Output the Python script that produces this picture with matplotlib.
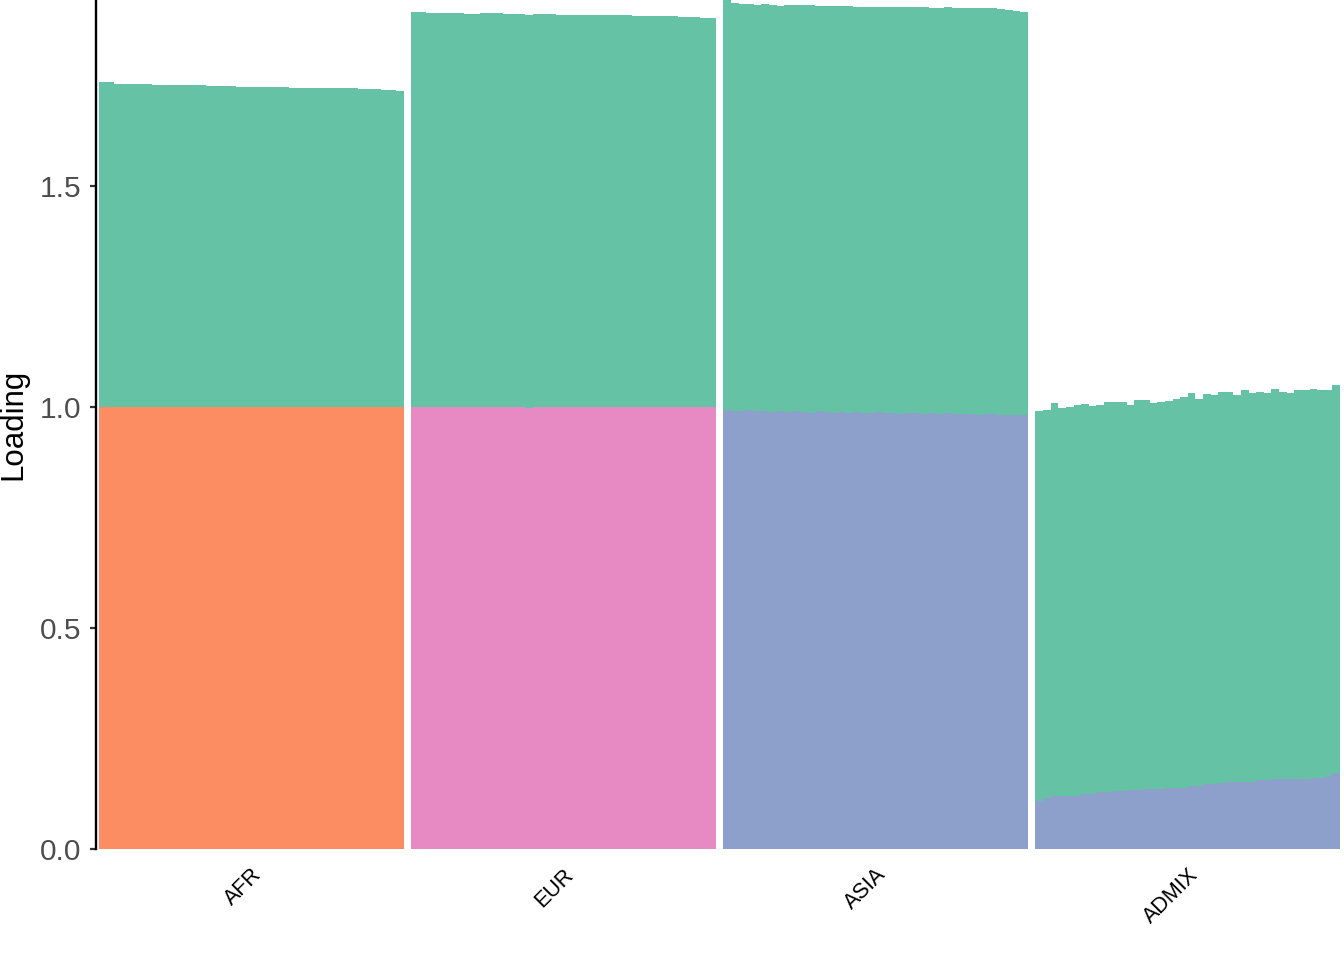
import matplotlib
matplotlib.use("Agg")
import matplotlib.pyplot as plt
import numpy as np

plt.rcParams['font.family'] = ['Liberation Sans', 'DejaVu Sans']

# ---------------- data ----------------
groups = ["AFR", "EUR", "ASIA", "ADMIX"]
group_colors = ["#FC8D62", "#E78AC3", "#8DA0CB", "#8DA0CB"]
shared_color = "#66C2A5"

afr_specific = [1.0, 1.0, 1.0, 1.0, 1.0, 1.0, 1.0, 1.0, 1.0, 1.0,
                1.0, 1.0, 1.0, 1.0, 1.0, 1.0, 1.0, 1.0, 1.0, 1.0,
                1.0, 1.0, 1.0, 1.0, 1.0, 1.0, 1.0, 1.0, 1.0, 1.0,
                1.0, 1.0, 1.0, 1.0, 1.0, 1.0, 1.0, 1.0, 1.0, 1.0]
afr_shared = [0.735, 0.735, 0.731, 0.731, 0.731, 0.731, 0.731, 0.729, 0.729, 0.728,
              0.728, 0.728, 0.728, 0.728, 0.726, 0.726, 0.726, 0.726, 0.724, 0.724,
              0.724, 0.724, 0.724, 0.724, 0.724, 0.722, 0.722, 0.722, 0.722, 0.722,
              0.722, 0.722, 0.722, 0.722, 0.719, 0.719, 0.719, 0.717, 0.717, 0.715]

eur_specific = [1.0, 1.0, 1.0, 1.0, 1.0, 1.0, 1.0, 1.0, 1.0, 1.0,
                1.0, 1.0, 1.0, 1.0, 1.0, 0.997, 1.0, 1.0, 1.0, 1.0,
                1.0, 1.0, 1.0, 1.0, 1.0, 1.0, 1.0, 1.0, 1.0, 1.0,
                1.0, 1.0, 1.0, 1.0, 1.0, 1.0, 1.0, 1.0, 1.0, 1.0]
eur_shared = [0.894, 0.894, 0.892, 0.892, 0.892, 0.892, 0.892, 0.890, 0.890, 0.892,
              0.892, 0.892, 0.890, 0.890, 0.890, 0.891, 0.889, 0.889, 0.889, 0.887,
              0.887, 0.887, 0.887, 0.887, 0.887, 0.887, 0.887, 0.887, 0.887, 0.885,
              0.885, 0.885, 0.885, 0.885, 0.885, 0.883, 0.883, 0.883, 0.880, 0.880]

asia_specific = [0.993, 0.991, 0.992, 0.993, 0.990, 0.991, 0.989, 0.991, 0.988, 0.990,
                 0.989, 0.987, 0.990, 0.988, 0.987, 0.989, 0.986, 0.988, 0.987, 0.986,
                 0.988, 0.986, 0.987, 0.985, 0.986, 0.987, 0.985, 0.986, 0.984, 0.986,
                 0.985, 0.984, 0.985, 0.983, 0.985, 0.984, 0.983, 0.982, 0.982, 0.981]
asia_shared = [0.928, 0.923, 0.920, 0.919, 0.9195, 0.921, 0.9205, 0.916, 0.9215, 0.9195,
               0.9205, 0.9225, 0.917, 0.919, 0.920, 0.918, 0.921, 0.917, 0.918, 0.919,
               0.917, 0.919, 0.918, 0.920, 0.919, 0.918, 0.920, 0.9167, 0.9187, 0.919,
               0.9177, 0.9187, 0.9177, 0.9197, 0.9177, 0.9187, 0.917, 0.916, 0.914, 0.913]

admix_specific = [0.108, 0.116, 0.121, 0.120, 0.121, 0.121, 0.125, 0.125, 0.128, 0.128,
                  0.131, 0.131, 0.133, 0.133, 0.135, 0.135, 0.135, 0.137, 0.139, 0.139,
                  0.143, 0.143, 0.148, 0.148, 0.150, 0.152, 0.152, 0.152, 0.152, 0.155,
                  0.155, 0.158, 0.158, 0.158, 0.158, 0.158, 0.161, 0.161, 0.165, 0.171]
admix_shared = [0.883, 0.877, 0.888, 0.878, 0.879, 0.8835, 0.882, 0.877, 0.8765, 0.883,
                0.880, 0.880, 0.8715, 0.883, 0.881, 0.874, 0.876, 0.877, 0.879, 0.884,
                0.889, 0.875, 0.881, 0.879, 0.884, 0.882, 0.875, 0.8865, 0.880, 0.879,
                0.877, 0.883, 0.876, 0.874, 0.8805, 0.8805, 0.880, 0.8775, 0.8735, 0.879]

specific = [afr_specific, eur_specific, asia_specific, admix_specific]
shared = [afr_shared, eur_shared, asia_shared, admix_shared]

yticks = [0.0, 0.5, 1.0, 1.5]
ytick_labels = ["0.0", "0.5", "1.0", "1.5"]

# ---------------- plot ----------------
W, H = 1344, 960
fig = plt.figure(figsize=(W / 100, H / 100), dpi=100)
ax = fig.add_axes([95.5 / W, (H - 849) / H, (1340 - 95.5) / W, 849 / H])

slot = 41  # 40 individuals + 1 empty slot between groups
centers = []
for g, name in enumerate(groups):
    n = len(specific[g])
    x = g * slot + np.arange(n)
    ax.bar(x, specific[g], width=1.0, color=group_colors[g], linewidth=0,
           antialiased=False)
    ax.bar(x, shared[g], bottom=specific[g], width=1.0, color=shared_color,
           linewidth=0, antialiased=False)
    centers.append(g * slot + (n - 1) / 2)

ax.set_xlim(-0.96, 3 * slot + 39.5)
ax.set_ylim(0, 1.921)

for s in ["top", "right", "bottom"]:
    ax.spines[s].set_visible(False)
ax.spines["left"].set_linewidth(1.7)
ax.spines["left"].set_color("black")

ax.set_yticks(yticks)
ax.set_yticklabels(ytick_labels)
ax.tick_params(axis="y", length=4.5, width=1.6, color="#333333",
               labelsize=21.5, labelcolor="#4D4D4D", pad=5.5)
ax.set_xticks(centers)
ax.set_xticklabels(groups, rotation=45, ha="right", va="top",
                   rotation_mode="anchor")
ax.tick_params(axis="x", length=0, labelsize=15.5, labelcolor="black", pad=11)

fig.text(13.5 / W, 1 - 424.5 / H, "Loading", rotation=90, ha="center",
         va="center", fontsize=22.5, color="black")

fig.savefig("out.png", dpi=100, facecolor="white")
